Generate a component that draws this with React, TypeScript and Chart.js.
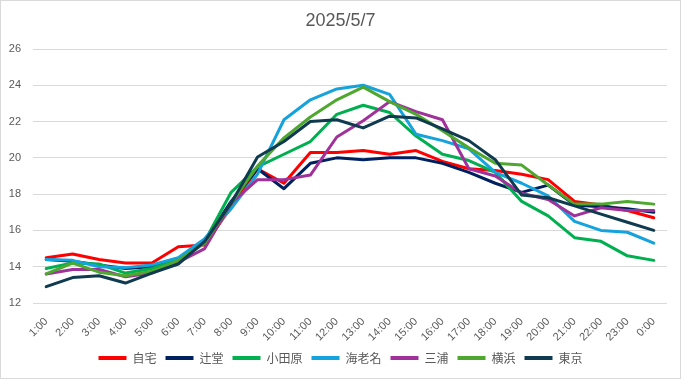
import { useEffect, useRef } from "react";
import { Chart, registerables } from "chart.js";
Chart.register(...registerables);

const categories = [
  "1:00", "2:00", "3:00", "4:00", "5:00", "6:00", "7:00", "8:00", "9:00", "10:00", "11:00", "12:00",
  "13:00", "14:00", "15:00", "16:00", "17:00", "18:00", "19:00", "20:00", "21:00", "22:00", "23:00", "0:00",
];

const jitaku = [14.5, 14.7, 14.4, 14.2, 14.2, 15.1, 15.2, 17.3, 19.4, 18.6, 20.3, 20.3, 20.4, 20.2, 20.4, 19.8, 19.4, 19.3, 19.1, 18.8, 17.6, 17.4, 17.1, 16.7];
const tsujido = [14.4, 14.3, 14.1, 13.9, 14.0, 14.4, 15.4, 17.6, 19.4, 18.3, 19.7, 20.0, 19.9, 20.0, 20.0, 19.7, 19.2, 18.6, 18.1, 18.5, 17.4, 17.3, 17.2, 17.0];
const odawara = [13.9, 14.2, 14.15, 13.65, 13.9, 14.4, 15.4, 18.1, 19.5, 20.2, 20.9, 22.4, 22.9, 22.5, 21.2, 20.2, 19.85, 19.2, 17.6, 16.8, 15.6, 15.4, 14.6, 14.35];
const ebina = [14.4, 14.35, 14.0, 13.95, 14.1, 14.5, 15.55, 17.2, 19.1, 22.1, 23.2, 23.8, 24.0, 23.5, 21.3, 20.95, 20.5, 19.2, 18.6, 17.9, 16.5, 16.0, 15.9, 15.3];
const miura = [13.6, 13.85, 13.85, 13.45, 13.65, 14.25, 15.0, 17.5, 18.8, 18.8, 19.05, 21.15, 22.05, 23.1, 22.55, 22.1, 19.4, 19.0, 18.05, 17.7, 16.8, 17.25, 17.1, 17.1];
const yokohama = [13.6, 14.2, 13.7, 13.5, 13.75, 14.35, 15.3, 17.5, 19.55, 21.1, 22.25, 23.2, 23.9, 23.1, 22.4, 21.5, 20.55, 19.7, 19.6, 18.5, 17.45, 17.45, 17.6, 17.45];
const tokyo = [12.9, 13.4, 13.5, 13.1, 13.65, 14.15, 15.4, 17.5, 20.05, 20.9, 22.0, 22.1, 21.65, 22.3, 22.2, 21.6, 20.95, 19.9, 17.95, 17.8, 17.35, 16.9, 16.45, 16.0];

const seriesNames = ["自宅", "辻堂", "小田原", "海老名", "三浦", "横浜", "東京"];
const seriesValues = [jitaku, tsujido, odawara, ebina, miura, yokohama, tokyo];
const seriesColors = ["#FF0000", "#002060", "#00B050", "#14A3DC", "#A0309A", "#4EA72E", "#0F3A4F"];

const yMin = 12;
const yMax = 26;
const yStep = 2;
const title = "2025/5/7";

export default function App() {
  const ref = useRef<HTMLCanvasElement>(null);
  useEffect(() => {
    document.body.style.margin = "0";
    const tickFont = { family: "'Liberation Sans', Arial, sans-serif", size: 11 };
    const chart = new Chart(ref.current!, {
      type: "line",
      data: {
        labels: categories,
        datasets: seriesNames.map((name, i) => ({
          label: name,
          data: seriesValues[i],
          borderColor: seriesColors[i],
          backgroundColor: seriesColors[i],
          borderWidth: 3,
          pointRadius: 0,
          pointHoverRadius: 0,
          tension: 0,
          fill: false,
          borderJoinStyle: "round" as const,
          borderCapStyle: "round" as const,
          order: seriesNames.length - i,
        })),
      },
      options: {
        animation: false,
        responsive: false,
        devicePixelRatio: 1,
        layout: { padding: { left: 0, right: 0, top: 0, bottom: 4 } },
        plugins: {
          title: {
            display: true,
            text: title,
            color: "#595959",
            font: { family: "'Liberation Sans', Arial, sans-serif", size: 18, weight: "normal" },
            padding: { top: 9, bottom: 17.4 },
          },
          legend: {
            position: "bottom",
            labels: {
              boxWidth: 28,
              boxHeight: 4,
              padding: 9,
              color: "#595959",
              font: { family: "'Noto Sans CJK JP', sans-serif", size: 12 },
              sort: (a: any, b: any) => a.datasetIndex - b.datasetIndex,
              generateLabels: (c: any) =>
                Chart.defaults.plugins.legend.labels.generateLabels(c).map((l: any) => ({
                  ...l,
                  lineWidth: 0,
                  fillStyle: seriesColors[l.datasetIndex],
                })),
            },
          },
          tooltip: { enabled: false },
        },
        scales: {
          x: {
            offset: true,
            grid: { display: false },
            border: { display: false },
            ticks: {
              color: "#595959",
              font: tickFont,
              minRotation: 45,
              maxRotation: 45,
              autoSkip: false,
              padding: 4,
            },
            afterFit: (s: any) => {
              s.height = 40;
            },
          },
          y: {
            min: yMin,
            max: yMax,
            ticks: { stepSize: yStep, color: "#595959", font: tickFont, padding: 12 },
            grid: { color: "#D9D9D9", drawTicks: false, lineWidth: 1 },
            border: { display: false },
            afterFit: (s: any) => {
              s.width = 32;
            },
          },
          y2: {
            position: "right",
            display: true,
            grid: { display: false, drawTicks: false },
            border: { display: false },
            ticks: { display: false },
            afterFit: (s: any) => {
              s.width = 13;
            },
          },
        },
      } as any,
    });
    return () => chart.destroy();
  }, []);
  return (
    <div
      style={{
        position: "absolute",
        left: 0,
        top: 0,
        width: 681,
        height: 379,
        boxSizing: "border-box",
        border: "1px solid #D9D9D9",
        background: "#fff",
      }}
    >
      <canvas ref={ref} width={679} height={377} style={{ display: "block" }} />
    </div>
  );
}
